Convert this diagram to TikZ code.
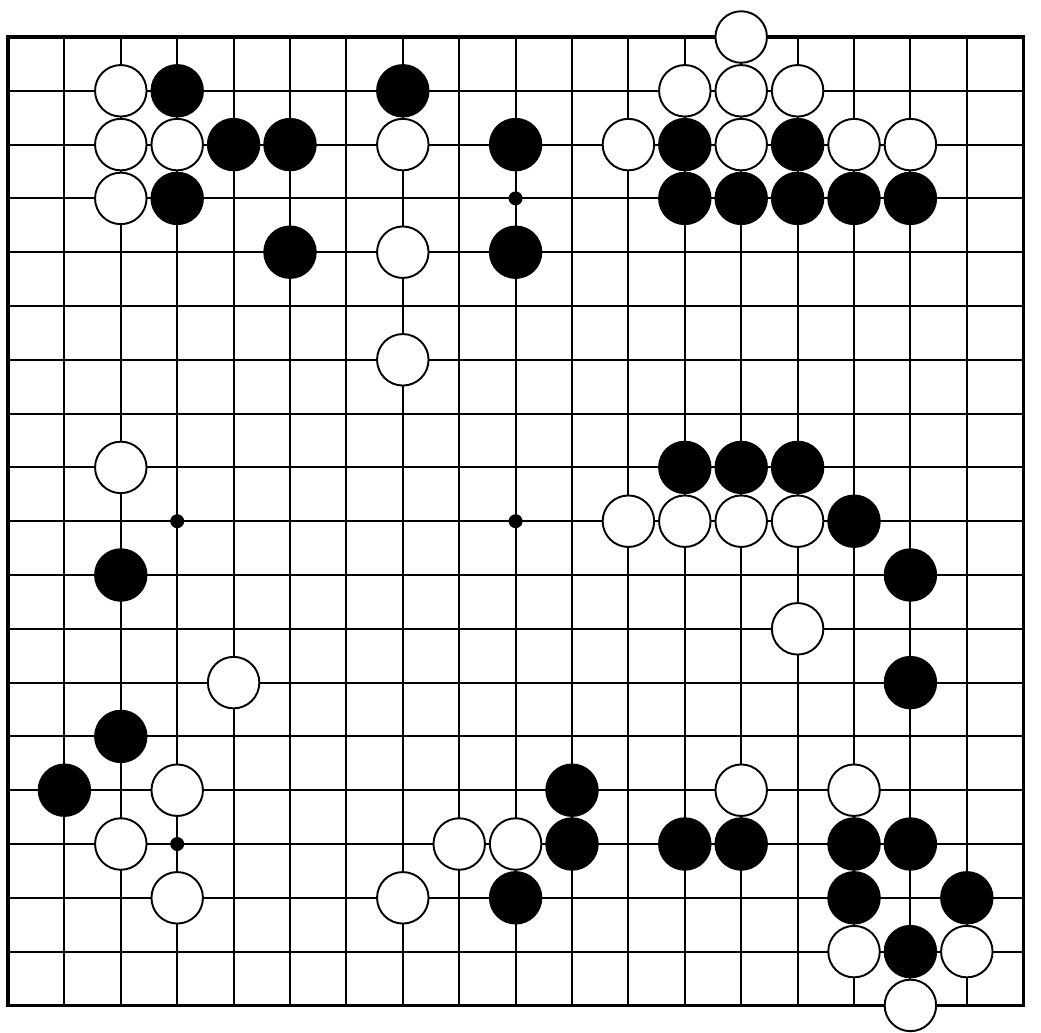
\documentclass[tikz,border=0pt]{standalone}
\usepackage{tikz}

\tikzset{
  stone/.style={circle, inner sep=0pt, minimum size=1.03cm, line width=1.1pt},
  black stone/.style={stone, draw=black, fill=black},
  white stone/.style={stone, draw=black, fill=white},
  hoshi/.style={circle, inner sep=0pt, minimum size=0.28cm, fill=black},
}

\begin{document}
\begin{tikzpicture}[x=1.128cm, y=-1.076cm]
  \useasboundingbox (-0.16cm,0.74cm) rectangle (20.66cm,-19.9cm);
  % Grid
  \foreach \i in {1,...,17} {
    \draw[line width=1.1pt] (\i,0) -- (\i,18);
    \draw[line width=1.1pt] (0,\i) -- (18,\i);
  }
  \draw[line width=1.9pt] (0,0) rectangle (18,18);
  % Star points
  \foreach \c/\r in {9/3, 3/9, 9/9, 3/15}
    \node[hoshi] (h-\c-\r) at (\c,\r) {};
  % Black stones
  \foreach \c/\r in {3/1, 7/1,
      4/2, 5/2, 9/2, 12/2, 14/2,
      3/3, 12/3, 13/3, 14/3, 15/3, 16/3,
      5/4, 9/4,
      12/8, 13/8, 14/8,
      15/9,
      2/10, 16/10,
      16/12,
      2/13,
      1/14, 10/14,
      10/15, 12/15, 13/15, 15/15, 16/15,
      9/16, 15/16, 17/16,
      16/17}
    \node[black stone] (b-\c-\r) at (\c,\r) {};
  % White stones
  \foreach \c/\r in {13/0,
      2/1, 12/1, 13/1, 14/1,
      2/2, 3/2, 7/2, 11/2, 13/2, 15/2, 16/2,
      2/3,
      7/4,
      7/6,
      2/8,
      11/9, 12/9, 13/9, 14/9,
      14/11,
      4/12,
      3/14, 13/14, 15/14,
      2/15, 8/15, 9/15,
      3/16, 7/16,
      15/17, 17/17,
      16/18}
    \node[white stone] (w-\c-\r) at (\c,\r) {};
\end{tikzpicture}
\end{document}
